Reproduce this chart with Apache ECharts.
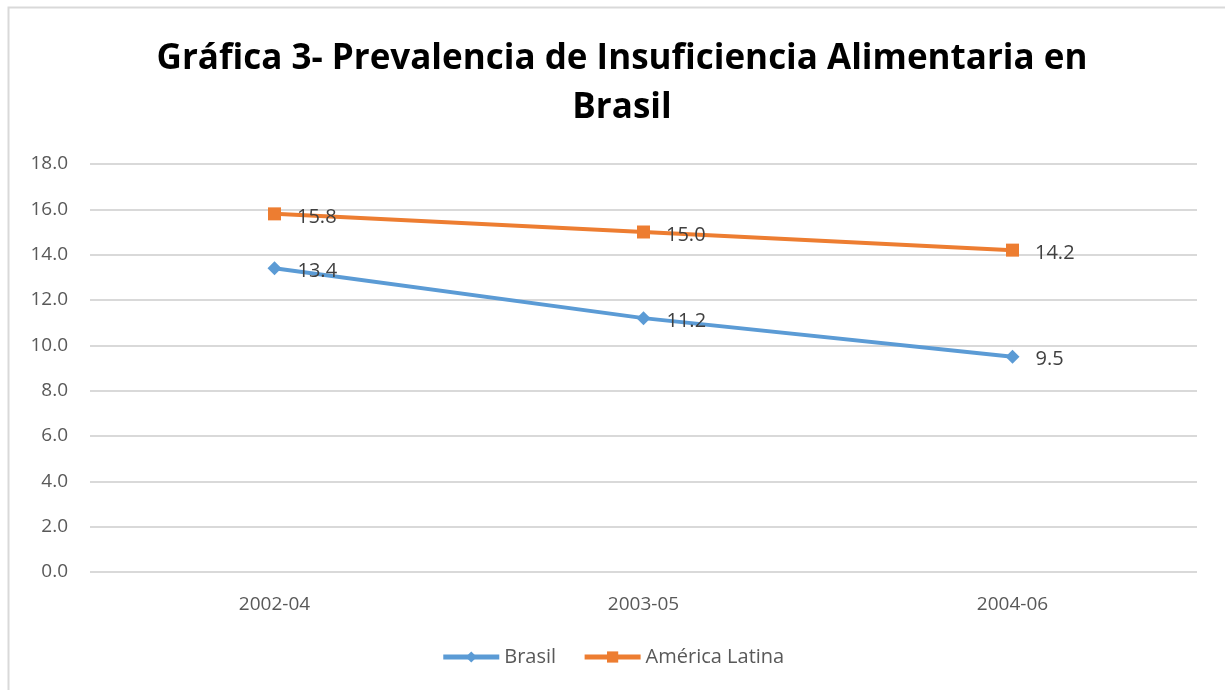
<!DOCTYPE html>
<html>
<head>
<meta charset="utf-8">
<script src="https://cdn.jsdelivr.net/npm/echarts@6/dist/echarts.min.js"></script>
<style>
  html, body { margin: 0; padding: 0; background: #fff; }
  #chart { width: 1225px; height: 690px; }
</style>
</head>
<body>
<div id="chart"></div>
<script>
const periods = ['2002-04', '2003-05', '2004-06'];
const brasil = [13.4, 11.2, 9.5];
const americaLatina = [15.8, 15.0, 14.2];

const chart = echarts.init(document.getElementById('chart'));

const labelStyle = {
  show: true,
  position: 'right',
  distance: 16,
  offset: [0, 3],
  color: '#404040',
  fontSize: 20,
  fontFamily: 'Open Sans',
  formatter: p => p.value.toFixed(1)
};

const option = {
  animation: false,
  backgroundColor: '#fff',
  graphic: [{
    type: 'rect',
    shape: { x: 8.5, y: 7.5, width: 1240, height: 720 },
    style: { fill: 'none', stroke: '#d9d9d9', lineWidth: 2 },
    silent: true
  }],
  title: {
    text: 'Gráfica 3- Prevalencia de Insuficiencia Alimentaria en\nBrasil',
    left: 617,
    textAlign: 'center',
    top: 30,
    textStyle: {
      fontFamily: 'Open Sans',
      fontWeight: 'bold',
      fontSize: 35,
      lineHeight: 49,
      color: '#000'
    }
  },
  legend: {
    bottom: 18,
    left: 'center',
    itemWidth: 56,
    itemHeight: 14,
    itemGap: 26,
    lineStyle: { width: 5 },
    textStyle: { color: '#595959', fontSize: 20, fontFamily: 'Open Sans' },
    data: ['Brasil', 'América Latina']
  },
  grid: { left: 90, right: 28, top: 164, bottom: 118 },
  xAxis: {
    type: 'category',
    data: periods,
    boundaryGap: true,
    axisLine: { show: false },
    axisTick: { show: false },
    axisLabel: { color: '#595959', fontSize: 19, fontFamily: 'Open Sans', margin: 23 }
  },
  yAxis: {
    type: 'value',
    min: 0,
    max: 18,
    interval: 2,
    axisLine: { show: false },
    axisTick: { show: false },
    splitLine: { lineStyle: { color: '#d9d9d9', width: 2 } },
    axisLabel: {
      color: '#595959',
      fontSize: 19,
      fontFamily: 'Open Sans',
      margin: 22,
      formatter: v => v.toFixed(1)
    }
  },
  series: [
    {
      name: 'Brasil',
      type: 'line',
      data: brasil,
      symbol: 'diamond',
      symbolSize: 14,
      lineStyle: { width: 4, color: '#5B9BD5' },
      itemStyle: { color: '#5B9BD5' },
      label: labelStyle
    },
    {
      name: 'América Latina',
      type: 'line',
      data: americaLatina,
      symbol: 'rect',
      symbolSize: 13,
      lineStyle: { width: 4, color: '#ED7D31' },
      itemStyle: { color: '#ED7D31' },
      label: labelStyle
    }
  ]
};

chart.setOption(option);
</script>
</body>
</html>
